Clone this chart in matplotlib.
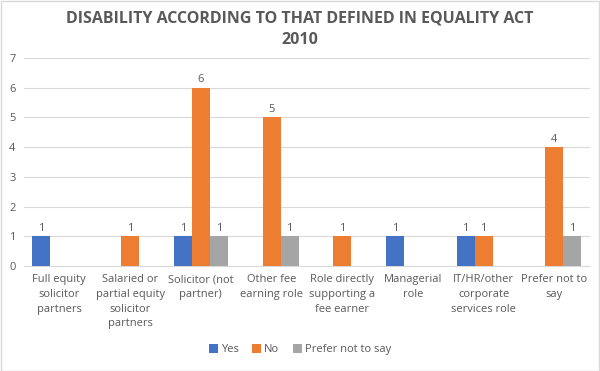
import numpy as np
import matplotlib.pyplot as plt

# Categories and values
categories = ['Full equity\nsolicitor\npartners', 'Salaried or\npartial equity\nsolicitor\npartners',
              'Solicitor (not\npartner)', 'Other fee\nearning role', 'Role directly\nsupporting a\nfee earner',
              'Managerial\nrole', 'IT/HR/other\ncorporate\nservices role', 'Prefer not to\nsay']
yes = [1, 0, 1, 0, 0, 1, 1, 0]
no = [0, 1, 6, 5, 1, 0, 1, 4]
prefer_not = [0, 0, 1, 1, 0, 0, 0, 1]
series_names = ['Yes', 'No', 'Prefer not to say']
colors = ['#4472C4', '#ED7D31', '#A5A5A5']

plt.rcParams['font.family'] = ['Open Sans', 'DejaVu Sans']
text_col = '#595959'

fig = plt.figure(figsize=(6, 3.71), dpi=100)
ax = fig.add_axes([0.040, 0.283, 0.943, 0.561])

x = np.arange(len(categories))
w = 0.255
for i, (vals, name, c) in enumerate(zip([yes, no, prefer_not], series_names, colors)):
    pos = x + (i - 1) * w
    bars = ax.bar(pos, vals, w, color=c, label=name, zorder=3)
    for b, v in zip(bars, vals):
        if v > 0:
            ax.text(b.get_x() + b.get_width() / 2, v + 0.08, str(v), ha='center', va='bottom',
                    fontsize=8, color=text_col)

ax.set_xlim(-0.5, len(categories) - 0.5)
ax.set_ylim(0, 7)
ax.set_yticks(range(8))
ax.grid(axis='y', color='#D9D9D9', linewidth=0.8, zorder=0)
for s in ['top', 'right', 'left']:
    ax.spines[s].set_visible(False)
ax.spines['bottom'].set_color('#D9D9D9')
ax.tick_params(axis='both', length=0, labelsize=8, labelcolor=text_col)
ax.tick_params(axis='y', pad=6)
ax.tick_params(axis='x', pad=6)
ax.set_xticks(x)
ax.set_xticklabels(categories, linespacing=1.45)

fig.text(0.5, 0.922, 'DISABILITY ACCORDING TO THAT DEFINED IN EQUALITY ACT\n2010', ha='center', va='center',
         fontsize=11.5, fontweight='bold', color=text_col, linespacing=1.45)

fig.legend(loc='center', bbox_to_anchor=(0.5, 0.057), ncol=3, frameon=False, fontsize=8,
           labelcolor=text_col, handlelength=0.8, handleheight=0.8, handletextpad=0.3, columnspacing=1.2)

fig.patches.append(plt.Rectangle((0.001, 0.001), 0.997, 0.997, transform=fig.transFigure,
                                 fill=False, edgecolor='#D9D9D9', linewidth=1))

fig.savefig('out.png', dpi=100)
